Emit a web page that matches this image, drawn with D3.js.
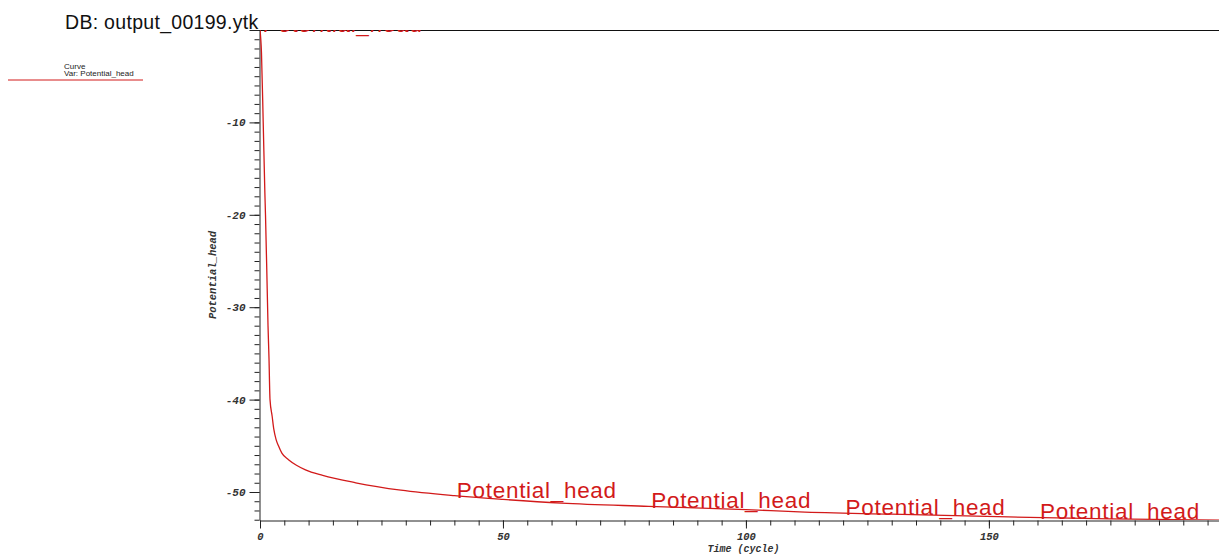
<!DOCTYPE html>
<html>
<head>
<meta charset="utf-8">
<script src="https://cdn.jsdelivr.net/npm/d3@7"></script>
<style>
  html, body { margin: 0; padding: 0; background: #fff; }
  svg { display: block; }
</style>
</head>
<body>
<svg id="chart" width="1219" height="556"></svg>
<script>
// Potential head history, sampled along the cycle axis
const cycles = [0, 0.3, 0.66, 1.0, 1.13, 1.48, 1.65, 1.85, 2.06, 2.5, 2.84, 3.3, 3.8, 4.5, 5.86, 7.5, 9.36, 12.9, 19.7, 29, 40, 50, 62, 80, 100, 111, 130, 154, 175, 199];
const potentialHead = [0, -2.4, -10, -17.6, -20, -28, -32, -35.5, -40, -41.8, -43.2, -44.3, -45, -45.8, -46.5, -47.1, -47.6, -48.2, -49.0, -49.8, -50.4, -50.8, -51.2, -51.55, -51.9, -52.15, -52.4, -52.7, -52.9, -53.05];

// Cycles where the curve name is repeated along the line
const labelCycles = [0, 40, 80, 120, 160];

const xMajorTicks = [0, 50, 100, 150];
const yMajorTicks = [-50, -40, -30, -20, -10, 0];

const titleText = "DB: output_00199.ytk";
const legendHeader = "Curve";
const legendVar = "Var: Potential_head";
const seriesName = "Potential_head";
const xTitle = "Time (cycle)";
const yTitle = "Potential_head";

(function () {
  const svg = d3.select("#chart");
  const W = 1219;
  const pLeft = 260, pTop = 30, pBottom = 520, pRight = 1227;

  const x = d3.scaleLinear().domain([0, 199]).range([pLeft, pRight]);
  const y = d3.scaleLinear().domain([-53.03, 0]).range([pBottom, pTop]);

  const red = "#d21a1a";
  const sansFont = "Liberation Sans, Arial, sans-serif";
  const tickFont = "Liberation Mono, Courier New, monospace";

  // Clip region for the plot area
  svg.append("defs").append("clipPath").attr("id", "plotClip")
    .append("rect").attr("x", pLeft).attr("y", pTop).attr("width", W - pLeft).attr("height", pBottom - pTop);

  // Title
  svg.append("text")
    .attr("x", 65).attr("y", 29)
    .attr("font-family", sansFont)
    .attr("font-size", 19.5)
    .attr("letter-spacing", 0.3)
    .attr("fill", "#111")
    .text(titleText);

  // Legend
  svg.append("text").attr("x", 64).attr("y", 69)
    .attr("font-family", sansFont)
    .attr("font-size", 8).attr("fill", "#222").text(legendHeader);
  svg.append("text").attr("x", 64).attr("y", 76)
    .attr("font-family", sansFont)
    .attr("font-size", 8).attr("fill", "#222").text(legendVar);
  svg.append("line").attr("x1", 8).attr("x2", 143).attr("y1", 80).attr("y2", 80)
    .attr("stroke", red).attr("stroke-width", 1);

  // Top frame line
  svg.append("line").attr("x1", pLeft - 10).attr("x2", W).attr("y1", pTop + 0.5).attr("y2", pTop + 0.5)
    .attr("stroke", "#111").attr("stroke-width", 1);

  // Y axis: minor ticks every unit
  const yMinor = d3.range(-53, 1, 1);
  svg.append("g").attr("transform", `translate(${pLeft - 0.5},0)`)
    .call(d3.axisLeft(y).tickValues(yMinor).tickSize(5).tickSizeOuter(0).tickFormat(""))
    .call(g => g.selectAll("line").attr("stroke", "#222"))
    .call(g => g.select(".domain").attr("stroke", "#222"));

  // Y axis: major ticks with labels
  svg.append("g").attr("transform", `translate(${pLeft - 0.5},0)`)
    .call(d3.axisLeft(y).tickValues(yMajorTicks).tickSize(10).tickSizeOuter(0).tickPadding(4)
      .tickFormat(d => d === 0 ? "" : String(d)))
    .call(g => g.select(".domain").remove())
    .call(g => g.selectAll("line").attr("stroke", "#222"))
    .call(g => g.selectAll("text")
      .attr("font-family", tickFont).attr("font-size", 11)
      .attr("font-weight", "bold").attr("font-style", "italic").attr("fill", "#333"));

  // X axis: minor ticks every 5 cycles
  const xMinor = d3.range(0, 200, 5);
  svg.append("g").attr("transform", `translate(0,${pBottom + 0.5})`)
    .call(d3.axisBottom(x).tickValues(xMinor).tickSize(5).tickSizeOuter(0).tickFormat(""))
    .call(g => g.selectAll("line").attr("stroke", "#222"))
    .call(g => g.select(".domain").attr("stroke", "#222"));

  // X axis: major ticks with labels
  svg.append("g").attr("transform", `translate(0,${pBottom + 0.5})`)
    .call(d3.axisBottom(x).tickValues(xMajorTicks).tickSize(8).tickSizeOuter(0).tickPadding(4)
      .tickFormat(d => String(d)))
    .call(g => g.select(".domain").remove())
    .call(g => g.selectAll("line").attr("stroke", "#222"))
    .call(g => g.selectAll("text")
      .attr("font-family", tickFont).attr("font-size", 10.5)
      .attr("font-weight", "bold").attr("font-style", "italic").attr("fill", "#333"));

  // Axis titles
  svg.append("text")
    .attr("x", (pLeft + pRight) / 2).attr("y", 551.5)
    .attr("text-anchor", "middle")
    .attr("font-family", tickFont).attr("font-size", 10)
    .attr("font-weight", "bold").attr("font-style", "italic").attr("fill", "#333")
    .text(xTitle);

  svg.append("text")
    .attr("transform", `translate(216,${(pTop + pBottom) / 2}) rotate(-90)`)
    .attr("text-anchor", "middle")
    .attr("font-family", tickFont).attr("font-size", 10.5)
    .attr("font-weight", "bold").attr("font-style", "italic").attr("fill", "#333")
    .text(yTitle);

  // Curve
  const data = cycles.map((c, i) => ({ t: c, v: potentialHead[i] }));
  const plot = svg.append("g").attr("clip-path", "url(#plotClip)");

  plot.append("path")
    .datum(data)
    .attr("fill", "none")
    .attr("stroke", red)
    .attr("stroke-width", 1.3)
    .attr("d", d3.line().x(d => x(d.t)).y(d => y(d.v)).curve(d3.curveMonotoneX));

  // Value on the curve at a given cycle (linear between samples)
  const valueAt = t => {
    const i = d3.bisector(d => d.t).right(data, t);
    if (i <= 0) return data[0].v;
    if (i >= data.length) return data[data.length - 1].v;
    const a = data[i - 1], b = data[i];
    return a.v + (b.v - a.v) * (t - a.t) / (b.t - a.t);
  };

  // Series name repeated along the curve
  plot.selectAll("text.curveLabel")
    .data(labelCycles)
    .join("text")
    .attr("class", "curveLabel")
    .attr("x", t => x(t) + 2.5)
    .attr("y", t => y(valueAt(t)) + 2)
    .attr("font-family", sansFont)
    .attr("font-size", 22.5)
    .attr("letter-spacing", 0.7)
    .attr("fill", red)
    .text(seriesName);
})();
</script>
</body>
</html>
